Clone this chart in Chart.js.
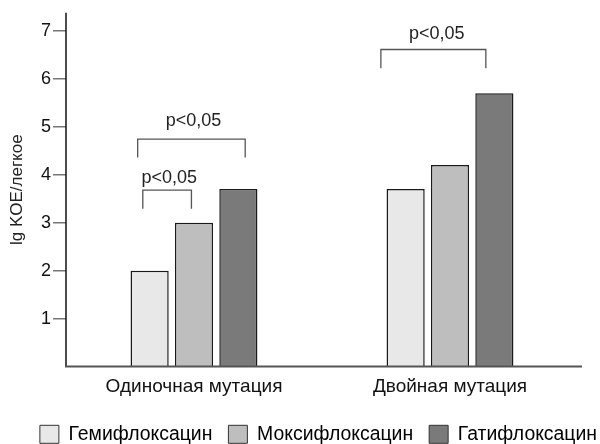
<!DOCTYPE html>
<html>
<head>
<meta charset="utf-8">
<script src="https://cdn.jsdelivr.net/npm/chart.js@4/dist/chart.umd.min.js"></script>
<style>
  html, body { margin: 0; padding: 0; background: #fff; }
  #wrap { width: 600px; height: 444px; }
</style>
</head>
<body>
<div id="wrap"><canvas id="chart"></canvas></div>
<script>
// categories and series
const categories = ['Одиночная мутация', 'Двойная мутация'];
const seriesNames = ['Гемифлоксацин', 'Моксифлоксацин', 'Гатифлоксацин'];
const gemiValues = [2.0, 3.7];
const moxiValues = [3.0, 4.2];
const gatiValues = [3.7, 5.7];
const yTicks = [1, 2, 3, 4, 5, 6, 7];

// significance brackets (x in category units, y in lg KOE)
const bracketFrom = [-0.20, -0.22, 0.73];
const bracketTo = [-0.01, 0.20, 1.14];
const bracketTop = [3.68, 4.74, 6.61];
const bracketLeg = [3.29, 4.36, 6.22];
const bracketText = ['p<0,05', 'p<0,05', 'p<0,05'];
const bracketTextX = [-0.097, -0.002, 0.948];
const bracketTextY = [3.94, 5.125, 6.94];

const FONT = "'Liberation Sans', Arial, sans-serif";
const fills = ['#e8e8e8', '#bebebe', '#7a7a7a'];

const axesPlugin = {
    id: 'axesPlugin',
    afterLayout(chart) {
        // legend sits flush right and at the very bottom, as in the original
        const lg = chart.legend;
        const dx = chart.width - 3 + lg.options.labels.padding - lg.right;
        lg.left += dx;
        lg.right += dx;
        lg.top += 10;
        lg.bottom += 10;
    },
    afterDraw(chart) {
        const ctx = chart.ctx;
        const a = chart.chartArea;
        const x = chart.scales.x;
        const y = chart.scales.y;
        ctx.save();
        // y axis
        ctx.strokeStyle = '#111';
        ctx.lineWidth = 1.5;
        ctx.beginPath();
        ctx.moveTo(a.left, a.top);
        ctx.lineTo(a.left, a.bottom);
        ctx.stroke();
        // x axis
        ctx.strokeStyle = '#555';
        ctx.lineWidth = 2;
        ctx.beginPath();
        ctx.moveTo(a.left - 1, a.bottom);
        ctx.lineTo(a.right + 4, a.bottom);
        ctx.stroke();

        // brackets
        ctx.strokeStyle = '#555';
        ctx.lineWidth = 1.3;
        ctx.fillStyle = '#222';
        ctx.font = '18px ' + FONT;
        ctx.textAlign = 'center';
        ctx.textBaseline = 'middle';
        for (let i = 0; i < bracketFrom.length; i++) {
            const x1 = x.getPixelForValue(bracketFrom[i]);
            const x2 = x.getPixelForValue(bracketTo[i]);
            const yt = y.getPixelForValue(bracketTop[i]);
            const yl = y.getPixelForValue(bracketLeg[i]);
            ctx.beginPath();
            ctx.moveTo(x1, yl);
            ctx.lineTo(x1, yt);
            ctx.lineTo(x2, yt);
            ctx.lineTo(x2, yl);
            ctx.stroke();
            ctx.fillText(bracketText[i], x.getPixelForValue(bracketTextX[i]), y.getPixelForValue(bracketTextY[i]));
        }
        ctx.restore();
    }
};

const valueSets = [gemiValues, moxiValues, gatiValues];

new Chart(document.getElementById('chart'), {
    type: 'bar',
    data: {
        labels: categories,
        datasets: seriesNames.map((name, i) => ({
            label: name,
            data: valueSets[i],
            backgroundColor: fills[i],
            borderColor: '#1a1a1a',
            borderWidth: 1.5,
            categoryPercentage: 0.52,
            barPercentage: 0.86
        }))
    },
    options: {
        responsive: true,
        maintainAspectRatio: false,
        animation: false,
        devicePixelRatio: 1,
        layout: { padding: { top: 12, right: 0, left: 0, bottom: 0 } },
        plugins: {
            tooltip: { enabled: false },
            legend: {
                position: 'bottom',
                align: 'end',
                labels: {
                    color: '#111',
                    font: { family: FONT, size: 19.4 },
                    boxWidth: 19,
                    boxHeight: 18,
                    padding: 16,
                    generateLabels(chart) {
                        return seriesNames.map((name, i) => ({
                            text: name,
                            fillStyle: fills[i],
                            strokeStyle: '#333',
                            lineWidth: 1,
                            datasetIndex: i
                        }));
                    }
                }
            }
        },
        scales: {
            x: {
                grid: { display: false, drawTicks: false },
                border: { display: false },
                ticks: { color: '#111', font: { family: FONT, size: 19 }, padding: 9 },
                afterFit(s) { s.height = 32; }
            },
            y: {
                min: 0,
                max: 7.375,
                grid: { display: true, drawOnChartArea: false, drawTicks: true, tickLength: 13, color: '#777', lineWidth: 1.5 },
                border: { display: false },
                ticks: {
                    color: '#111',
                    font: { family: FONT, size: 18 },
                    padding: 2,
                    stepSize: 1,
                    includeBounds: false
                },
                afterBuildTicks(s) {
                    s.ticks = yTicks.map(v => ({ value: v }));
                },
                title: {
                    display: true,
                    text: 'lg KOE/легкое',
                    color: '#222',
                    font: { family: FONT, size: 17 },
                    padding: { top: 7, bottom: 6 }
                },
                afterFit(s) { s.width = 66; }
            },
            // empty right-hand spacer, keeps the plot narrower than the legend row
            spacer: {
                type: 'linear',
                position: 'right',
                grid: { display: false },
                border: { display: false },
                ticks: { display: false },
                afterFit(s) { s.width = 22; }
            }
        }
    },
    plugins: [axesPlugin]
});
</script>
</body>
</html>
